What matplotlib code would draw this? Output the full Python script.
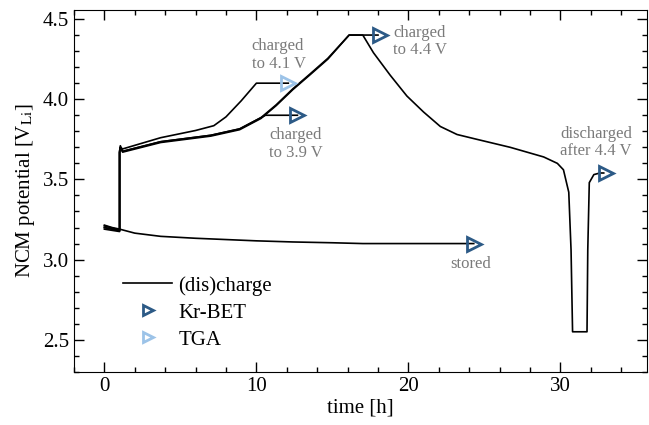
import matplotlib.pyplot as plt

plt.rcParams['font.family'] = ['Liberation Serif', 'DejaVu Serif']
plt.rcParams['mathtext.fontset'] = 'stix'

# storage curve
t_stored = [0, 0.5, 1.0, 2.0, 3.7, 6.0, 8.0, 10.0, 12.4, 15.0, 17.0, 20.0, 24.3]
v_stored = [3.215, 3.20, 3.19, 3.165, 3.145, 3.133, 3.125, 3.117, 3.11, 3.105, 3.10, 3.10, 3.10]

# charge to 3.9 V
t_39 = [0, 1.0, 1.0, 1.05, 1.2, 3.7, 7.0, 8.9, 10.0, 10.6, 12.7]
v_39 = [3.20, 3.18, 3.67, 3.71, 3.675, 3.735, 3.775, 3.815, 3.87, 3.90, 3.90]

# charge to 4.1 V
t_41 = [0, 1.0, 1.0, 1.05, 1.2, 3.7, 6.0, 7.2, 8.0, 9.0, 10.0, 12.1]
v_41 = [3.19, 3.175, 3.68, 3.70, 3.69, 3.76, 3.805, 3.835, 3.89, 3.99, 4.10, 4.10]

# charge to 4.4 V
t_44 = [0, 1.0, 1.0, 1.05, 1.2, 3.7, 7.0, 8.9, 10.3, 11.3, 12.4, 13.5, 14.7, 16.1, 17.0, 18.0]
v_44 = [3.21, 3.185, 3.665, 3.70, 3.67, 3.73, 3.77, 3.81, 3.88, 3.96, 4.06, 4.15, 4.25, 4.40, 4.40, 4.40]

# charge to 4.4 V, then discharge
t_dis = [0, 1.0, 1.0, 1.05, 1.2, 3.7, 7.0, 8.9, 10.3, 11.3, 12.4, 13.5, 14.7, 16.1, 17.0,
         17.7, 18.8, 19.9, 21.0, 22.1, 23.2, 24.5, 26.7, 28.9, 29.8, 30.2, 30.3, 30.4,
         30.55, 30.7, 30.8, 31.75, 31.8, 31.9, 32.2, 32.6, 32.85]
v_dis = [3.20, 3.18, 3.67, 3.70, 3.675, 3.735, 3.775, 3.815, 3.885, 3.965, 4.065, 4.155, 4.255, 4.40, 4.40,
         4.29, 4.15, 4.02, 3.92, 3.83, 3.78, 3.75, 3.70, 3.64, 3.60, 3.56, 3.52, 3.48,
         3.42, 3.06, 2.55, 2.55, 3.06, 3.48, 3.53, 3.54, 3.54]

kr_bet_t = [24.3, 12.7, 18.1, 33.0]
kr_bet_v = [3.10, 3.90, 4.40, 3.54]
tga_t = [12.1]
tga_v = [4.10]

notes = ['stored', 'charged\nto 3.9 V', 'charged\nto 4.1 V', 'charged\nto 4.4 V', 'discharged\nafter 4.4 V']
note_x = [24.1, 10.85, 9.7, 19.0, 30.0]
note_y = [2.97, 3.72, 4.275, 4.36, 3.73]

dark = '#2c5a86'
light = '#9cc3e8'
gray = '#7a7a7a'

fig = plt.figure(figsize=(6.49, 4.25), dpi=100)
ax = fig.add_axes([0.114, 0.125, 0.883, 0.851])

for t, v in [(t_stored, v_stored), (t_39, v_39), (t_41, v_41), (t_44, v_44), (t_dis, v_dis)]:
    ax.plot(t, v, color='black', lw=1.2)
ax.plot([], [], color='black', lw=1.2, label='(dis)charge')

ax.plot(kr_bet_t, kr_bet_v, ls='none', marker='>', ms=10, mfc='none', mec=dark, mew=2, label='Kr-BET')
ax.plot(tga_t, tga_v, ls='none', marker='>', ms=10, mfc='none', mec=light, mew=2, label='TGA')

ax.text(note_x[0], note_y[0], notes[0], color=gray, fontsize=12, ha='center', va='center')
for i in range(1, 5):
    ax.text(note_x[i], note_y[i], notes[i], color=gray, fontsize=12, ha='left', va='center',
            linespacing=1.15)

ax.set_xlim(-2, 35.7)
ax.set_ylim(2.3, 4.555)
ax.set_xticks([0, 10, 20, 30])
ax.set_yticks([2.5, 3.0, 3.5, 4.0, 4.5])
ax.minorticks_on()
ax.tick_params(which='both', direction='in', top=True, right=True, labelsize=15, width=1)
ax.tick_params(which='major', length=7)
ax.tick_params(which='minor', length=3.5)
ax.set_xlabel('time [h]', fontsize=15, labelpad=2)
ax.set_ylabel('NCM potential [V$_{\\rm Li}$]', fontsize=15, labelpad=4)

leg = ax.legend(loc='lower left', bbox_to_anchor=(0.053, 0.01), frameon=False, fontsize=15,
                handlelength=2.35, handletextpad=0.3, labelspacing=0.35, markerscale=0.75)

fig.savefig('out.png', dpi=100)
